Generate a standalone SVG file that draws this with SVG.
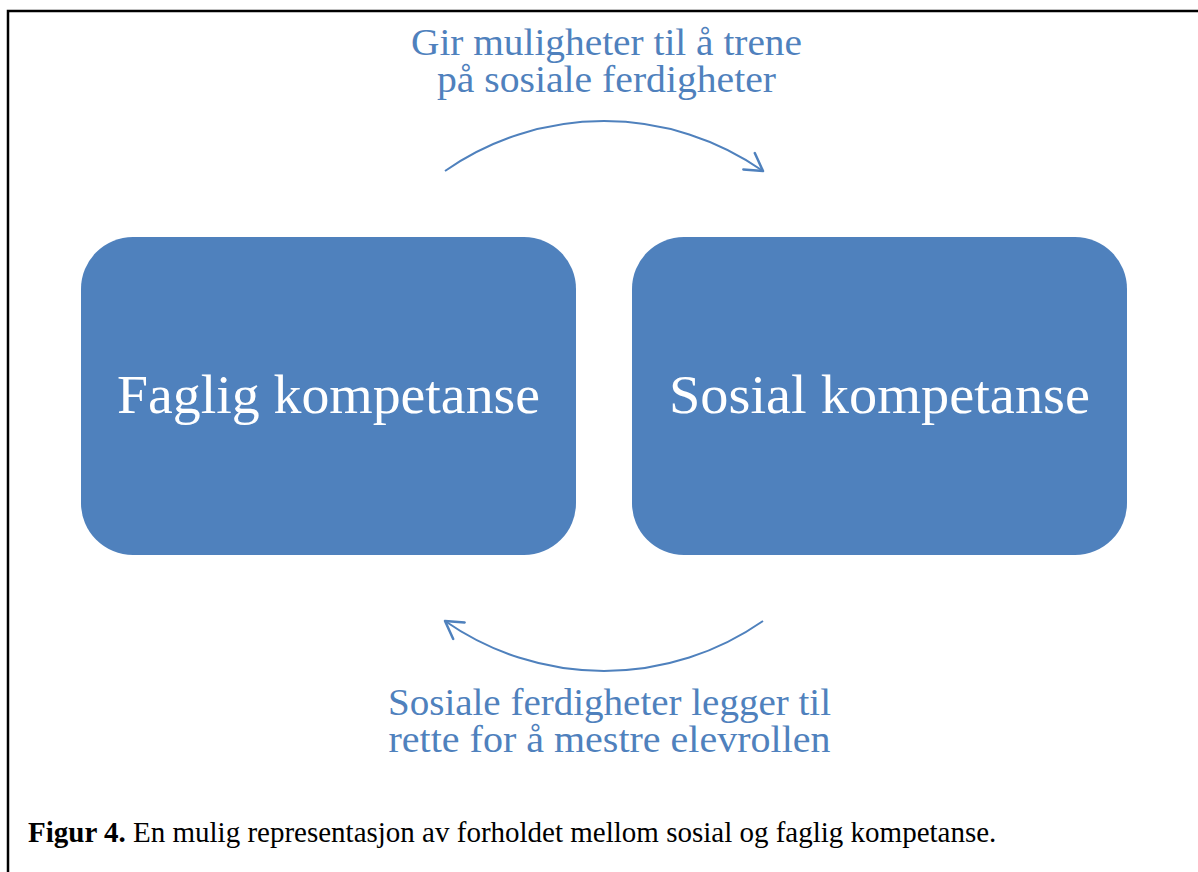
<svg xmlns="http://www.w3.org/2000/svg" width="1198" height="872" viewBox="0 0 1198 872">
<style>
.frame{fill:none;stroke:#000;stroke-width:2.5}
.box{fill:#4F81BD}
.boxtxt{font-family:"Liberation Serif",serif;font-size:55px;fill:#fff;text-anchor:middle}
.lbl{font-family:"Liberation Serif",serif;font-size:37px;fill:#4F81BD;text-anchor:middle}
.conn{fill:none;stroke:#4F81BD;stroke-width:2}
.cap{font-family:"Liberation Serif",serif;font-size:29px;fill:#000}
</style>
<defs>
<marker id="arr" markerUnits="userSpaceOnUse" viewBox="-20 -12 22 24" markerWidth="22" markerHeight="24" refX="0" refY="0" orient="auto">
<path d="M-17,-10 L0,0 L-17,10" fill="none" stroke="#4F81BD" stroke-width="2.5" stroke-linecap="round" stroke-linejoin="round"/>
</marker>
</defs>
<rect width="1198" height="872" fill="#fff"/>
<path class="frame" d="M8,872 V11 H1198"/>
<g id="node-faglig">
<rect class="box" x="81" y="237" width="495" height="318" rx="52" ry="52"/>
<text class="boxtxt" x="328.5" y="413" textLength="423" lengthAdjust="spacingAndGlyphs">Faglig kompetanse</text>
</g>
<g id="node-sosial">
<rect class="box" x="632" y="237" width="495" height="318" rx="52" ry="52"/>
<text class="boxtxt" x="879.5" y="413" textLength="421" lengthAdjust="spacingAndGlyphs">Sosial kompetanse</text>
</g>
<g id="connectors">
<path class="conn" d="M445,171 A278,278 0 0 1 763,171" marker-end="url(#arr)"/>
<path class="conn" d="M763,621 A278,278 0 0 1 445,621" marker-end="url(#arr)"/>
</g>
<g id="label-top">
<text class="lbl"><tspan x="606.5" y="55" textLength="391" lengthAdjust="spacingAndGlyphs">Gir muligheter til å trene</tspan><tspan x="606.5" y="92" textLength="339" lengthAdjust="spacingAndGlyphs">på sosiale ferdigheter</tspan></text>
</g>
<g id="label-bottom">
<text class="lbl"><tspan x="609.5" y="715" textLength="443" lengthAdjust="spacingAndGlyphs">Sosiale ferdigheter legger til</tspan><tspan x="609.5" y="752" textLength="442" lengthAdjust="spacingAndGlyphs">rette for å mestre elevrollen</tspan></text>
</g>
<g id="caption">
<text class="cap" x="28" y="842"><tspan font-weight="bold">Figur 4.</tspan> En mulig representasjon av forholdet mellom sosial og faglig kompetanse.</text>
</g>
</svg>
